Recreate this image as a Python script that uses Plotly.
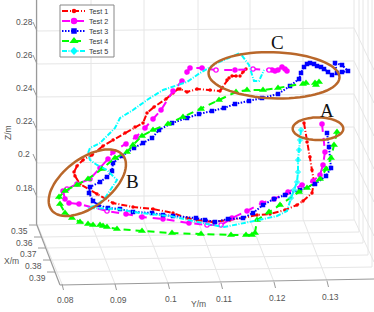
import numpy as np
import plotly.graph_objects as go

W, H = 374, 312

# ---- Picture-plane positions (3D view already flattened) ----
test1_x = [304,307,310,312,314,312,303,297,285,270,257,243,230,213,197,187,173,153,133,113,97,80,75,74,77,83,92,103,113,125,135,143,147,154,166,173,178,180,187,197,210,220,222,227,229,232,236,240,243,246]
test1_y = [123,142,157,170,182,193,201,205,210,214,215,218,220,222,220,218,213,209,207,203,194,184,176,172,166,160,155,146,140,133,127,123,113,107,99,93,89,89,92,89,90,91,88,80,78,76,76,76,72,69]

test2_x = [322,325,323,320,313,302,288,274,262,247,232,221,207,189,163,142,126,107,79,69,65,63,67,77,90,100,108,113,126,136,145,153,161,173,182,187,190,202,216,235,253,269,272,275,278,282,285,287]
test2_y = [124,152,165,175,181,185,192,199,203,211,218,225,225,223,219,217,214,211,204,203,199,191,189,184,179,168,159,152,144,137,128,119,110,91,81,72,68,68,70,70,69,70,70,71,70,67,69,71]
test2_hollow = [11,12,17,22,23,38,40,41]

test3_x = [327,329,331,326,315,300,285,274,263,253,243,228,215,205,196,173,163,152,133,120,108,98,93,89,90,100,107,112,113,122,134,143,152,159,172,187,199,212,224,235,249,262,278,290,299,301,304,307,310,314,317,321,324,328,332,337,335,342,348,342]
test3_y = [133,147,168,176,184,190,195,199,205,213,218,219,222,220,218,216,215,213,212,209,208,205,201,193,187,182,177,171,163,156,148,143,138,130,123,118,114,111,108,104,101,98,94,86,79,73,67,64,63,64,66,67,69,72,75,73,63,65,71,72]

test4_x = [337,334,331,326,320,307,299,280,269,257,255,252,246,231,201,172,142,117,107,103,100,93,88,80,72,65,60,59,65,77,88,102,115,127,133,142,153,168,183,201,219,236,247,263,278,303,306,315,319,316]
test4_y = [132,145,158,169,179,188,192,205,212,220,233,235,235,235,234,233,231,229,227,226,225,225,224,222,218,213,204,197,191,185,179,169,158,152,145,136,130,124,117,109,100,92,90,90,88,84,83,83,82,85]

test5_x = [301,300,299,298,298,297,294,291,287,277,254,237,224,207,187,170,140,117,88,97,105,117,107,97,90,88,90,100,115,120,133,147,163,187,200,217,240,249,254,259,264]
test5_y = [130,140,150,160,172,182,190,198,211,216,221,224,227,224,220,216,213,209,208,205,198,180,170,165,160,153,148,143,128,118,110,100,90,82,73,63,53,65,81,81,70]
test5_marked = 8

names = ["Test 1", "Test 2", "Test 3", "Test 4", "Test 5"]
colors = ["#ff0000", "#ff00ff", "#0000ff", "#00ff00", "#00ffff"]
dashes = ["6px,2px,1px,2px", "8px,6px", "1.5px,1.5px", "7px,5px", "5px,1.5px,1px,1.5px"]
symbols = ["circle", "circle", "square", "triangle-up", "diamond"]
key_sizes = [3.5, 5.5, 4.5, 7, 5]

# ---- Tick labels ----
z_ticks = ["0.28", "0.26", "0.24", "0.22", "0.2", "0.18"]
z_grid_left = [31, 64, 97, 130, 163, 197]
y_ticks = ["0.08", "0.09", "0.1", "0.11", "0.12", "0.13"]
y_floor_front = [62, 115, 168, 221, 274, 327]
y_floor_front_h = [284, 284, 283, 283, 282, 281]
y_wall_x = [37, 91, 144, 198, 250, 303]
x_ticks = ["0.35", "0.36", "0.37", "0.38", "0.39"]
x_floor_left = [37, 42, 46, 51, 55]
x_floor_h = [225, 237, 248, 260, 272]

GRID, AXIS, TXT = "#e6e6e6", "#9a9a9a", "#555555"
shapes, annos = [], []

def seg(x0, y0, x1, y1, c=GRID, w=1):
    shapes.append(dict(type="line", xref="x", yref="y", x0=x0, y0=y0, x1=x1, y1=y1,
                       line=dict(color=c, width=w), layer="below"))

def txt(x, y, s, size=8.5, color=TXT, angle=0, fam="Liberation Sans", anchor="center"):
    annos.append(dict(x=x, y=y, xref="x", yref="y", text=s, showarrow=False, textangle=angle,
                      font=dict(size=size, color=color, family=fam), xanchor=anchor, yanchor="middle",
                      borderpad=0, borderwidth=0))

# walls: Z grid
for lab, yv in zip(z_ticks, z_grid_left):
    seg(37, yv, 354, yv - 3)
    seg(354, yv - 3, 374, yv + 39)
    seg(33, yv - 9, 37, yv, AXIS)
    txt(24, yv - 9, lab)
# Y grid
for lab, wx, fx, fy in zip(y_ticks, y_wall_x, y_floor_front, y_floor_front_h):
    top = 224 - (wx - 37) * 5 / 266
    seg(wx, 0, wx, top)
    seg(wx, top, fx, fy)
    seg(fx, fy, fx + 1.5, fy + 6, AXIS)
    txt(fx + 3, fy + 16, lab)
# X grid
for lab, lx, h in zip(x_ticks, x_floor_left, x_floor_h):
    seg(lx, h, lx + 317, h - 5)
    if lx > 37:
        seg(lx + 317, h - 5, lx + 317, 0)
    seg(lx - 8, h, lx, h, AXIS)
    txt(lx - 18, h + 6, lab)
# box axes
seg(36.5, 0, 36.5, 224, AXIS, 1.2)
seg(36.5, 224, 60, 285, AXIS, 1.2)
seg(60, 285, 374, 279, AXIS, 1.2)
seg(354, 0, 354, 219)
seg(354, 219, 374, 262)

txt(8, 133, "Z/m", 8.5, TXT, -90)
txt(11, 261, "X/m", 8.5)
txt(198, 304, "Y/m", 8.5)
txt(277, 42, "C", 19, "#111111", fam="Liberation Serif")
txt(327, 110, "A", 19, "#111111", fam="Liberation Serif")
txt(132, 181, "B", 19, "#111111", fam="Liberation Serif")

fig = go.Figure()
def line(name, xs, ys, i, size, lw=2):
    return go.Scatter(x=xs, y=ys, name=name, mode="lines+markers", hoverinfo="skip", showlegend=False,
                      line=dict(color=colors[i], width=lw, dash=dashes[i]),
                      marker=dict(color=colors[i], symbol=symbols[i], size=size, line=dict(width=0)))

fig.add_trace(line(names[0], test1_x, test1_y, 0, key_sizes[0]))
fig.add_trace(line(names[1], test2_x, test2_y, 1, key_sizes[1]))
fig.add_trace(go.Scatter(x=[test2_x[i] for i in test2_hollow], y=[test2_y[i] for i in test2_hollow],
                         mode="markers", showlegend=False, hoverinfo="skip",
                         marker=dict(color="#ffffff", size=3, line=dict(width=0))))
fig.add_trace(line(names[2], test3_x, test3_y, 2, key_sizes[2]))
fig.add_trace(line(names[3], test4_x, test4_y, 3, key_sizes[3]))
t5_sizes = [key_sizes[4] if i < test5_marked else 0 for i in range(len(test5_x))]
fig.add_trace(line(names[4], test5_x, test5_y, 4, t5_sizes))

# Ellipses (centre x, centre y, semi-major, semi-minor, tilt in degrees)
ell_cx = [274, 318, 87.3]
ell_cy = [75.3, 128.7, 182.7]
ell_a = [65.5, 25.3, 45]
ell_b = [23, 11.3, 24]
ell_t = [2, 0, -37.3]
for cx, cy, a, b, t in zip(ell_cx, ell_cy, ell_a, ell_b, ell_t):
    th = np.linspace(0, 2 * np.pi, 72)
    r = np.radians(t)
    ex = cx + a * np.cos(th) * np.cos(r) - b * np.sin(th) * np.sin(r)
    ey = cy + a * np.cos(th) * np.sin(r) + b * np.sin(th) * np.cos(r)
    path = "M " + " L ".join(f"{px:.1f},{py:.1f}" for px, py in zip(ex, ey)) + " Z"
    shapes.append(dict(type="path", path=path, xref="x", yref="y",
                       line=dict(color="#b9672a", width=2.5), layer="above"))

# Legend box drawn at the reference's compact scale
shapes.append(dict(type="rect", xref="x", yref="y", x0=60, y0=5, x1=114, y1=57,
                   fillcolor="white", line=dict(color="#888888", width=1), layer="below"))
legend_rows = [11, 21, 31, 41, 51]
for i, row in enumerate(legend_rows):
    fig.add_trace(go.Scatter(x=[62, 85], y=[row, row], mode="lines", showlegend=False, hoverinfo="skip",
                             line=dict(color=colors[i], width=2, dash=dashes[i])))
    fig.add_trace(go.Scatter(x=[74], y=[row], mode="markers", showlegend=False, hoverinfo="skip",
                             marker=dict(color=colors[i], symbol=symbols[i], size=key_sizes[i] + 1, line=dict(width=0))))
    txt(89, row, names[i], 7.2, "#333333", anchor="left")

fig.update_layout(
    width=W, height=H, margin=dict(l=0, r=0, t=0, b=0),
    paper_bgcolor="white", plot_bgcolor="white",
    xaxis=dict(range=[0, W], visible=False, fixedrange=True),
    yaxis=dict(range=[H, 0], visible=False, fixedrange=True),
    shapes=shapes, annotations=annos,
    showlegend=False,
)
fig.write_html("out.html", config=dict(displayModeBar=False),
               post_script="document.body.style.margin='0';document.body.style.overflow='hidden';")
